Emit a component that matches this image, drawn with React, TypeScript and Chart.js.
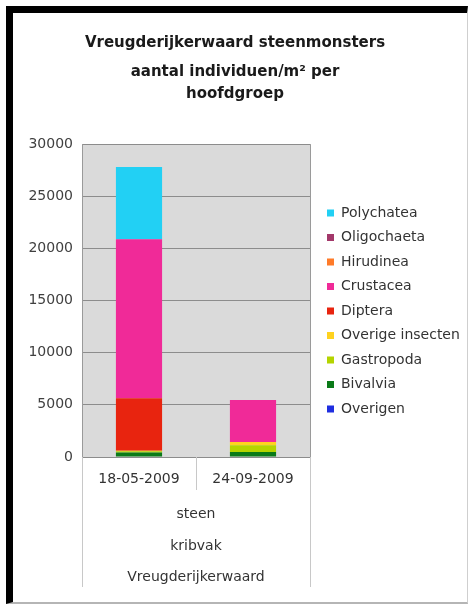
import React, { useEffect, useRef } from 'react';
import { Chart, registerables } from 'chart.js';

Chart.register(...registerables);

// ---- data ----
const categories = ['18-05-2009', '24-09-2009'];
const groupLevels = ['steen', 'kribvak', 'Vreugderijkerwaard'];
const titleText = 'Vreugderijkerwaard steenmonsters';
const subtitleLines = ['aantal individuen/m² per', 'hoofdgroep'];

// series listed bottom -> top of the stack
const seriesNames = [
  'Overigen',
  'Bivalvia',
  'Gastropoda',
  'Overige insecten',
  'Diptera',
  'Crustacea',
  'Hirudinea',
  'Oligochaeta',
  'Polychatea',
];
const overigen = [0, 0];
const bivalvia = [430, 480];
const gastropoda = [130, 640];
const overigeInsecten = [40, 320];
const diptera = [5030, 0];
const crustacea = [15240, 4020];
const hirudinea = [0, 0];
const oligochaeta = [0, 0];
const polychatea = [6930, 0];
const seriesValues = [
  overigen,
  bivalvia,
  gastropoda,
  overigeInsecten,
  diptera,
  crustacea,
  hirudinea,
  oligochaeta,
  polychatea,
];
const seriesColors = [
  '#1f2ee0',
  '#0a7a18',
  '#b4d400',
  '#ffd21f',
  '#e8240f',
  '#f02a98',
  '#ff7b29',
  '#a3386a',
  '#22d0f4',
];
const yMin = 0;
const yMax = 30000;
const yStep = 5000;

const FONT = 'DejaVu Sans';

const plotDecor = {
  id: 'plotDecor',
  beforeDraw(chart: any) {
    const { ctx, chartArea } = chart;
    ctx.save();
    ctx.fillStyle = '#dadada';
    ctx.fillRect(chartArea.left, chartArea.top, chartArea.right - chartArea.left, chartArea.bottom - chartArea.top);
    ctx.restore();
  },
  afterDraw(chart: any) {
    const { ctx, chartArea, scales } = chart;
    const x = scales.x;
    ctx.save();
    // plot border (right side)
    ctx.strokeStyle = '#9a9a9a';
    ctx.lineWidth = 1;
    ctx.beginPath();
    ctx.moveTo(Math.round(chartArea.right) + 0.5, chartArea.top);
    ctx.lineTo(Math.round(chartArea.right) + 0.5, chartArea.bottom);
    ctx.stroke();
    // category separators below plot
    ctx.strokeStyle = '#c8c8c8';
    const mid = (x.getPixelForTick(0) + x.getPixelForTick(1)) / 2;
    ctx.beginPath();
    ctx.moveTo(Math.round(mid) + 0.5, chartArea.bottom);
    ctx.lineTo(Math.round(mid) + 0.5, chartArea.bottom + 33);
    const lastGroup = scales.g3;
    [chartArea.left, chartArea.right].forEach((px: number) => {
      ctx.moveTo(Math.round(px) + 0.5, chartArea.bottom);
      ctx.lineTo(Math.round(px) + 0.5, lastGroup.bottom - 2);
    });
    ctx.stroke();
    ctx.restore();
  },
};

export default function App() {
  const ref = useRef<HTMLCanvasElement>(null);

  useEffect(() => {
    if (!ref.current) return;
    const tickFont = { family: FONT, size: 14 };
    const groupAxis = (idx: number, weight: number, padding: number) => ({
      type: 'category',
      axis: 'x',
      position: 'bottom',
      labels: [groupLevels[idx]],
      offset: true,
      weight,
      grid: { display: false, drawTicks: false },
      border: { display: false },
      ticks: { padding, color: '#333333', font: tickFont, autoSkip: false, maxRotation: 0 },
    });
    const chart = new Chart(ref.current, {
      type: 'bar',
      data: {
        labels: categories,
        datasets: seriesNames.map((name, i) => ({
          label: name,
          data: seriesValues[i],
          backgroundColor: seriesColors[i],
          borderWidth: 0,
          barPercentage: 1,
          categoryPercentage: 0.405,
          xAxisID: 'x',
          yAxisID: 'y',
        })),
      },
      options: {
        responsive: false,
        animation: false,
        layout: { padding: { top: 0, left: 8.5, right: 5.5, bottom: 13 } },
        font: { family: FONT },
        scales: {
          x: {
            type: 'category',
            stacked: true,
            weight: 0,
            grid: { display: false, drawTicks: false },
            border: { display: false },
            ticks: { padding: 14, color: '#333333', font: tickFont, maxRotation: 0 },
          },
          y: {
            type: 'linear',
            stacked: true,
            min: yMin,
            max: yMax,
            grid: { color: '#8c8c8c', drawTicks: false },
            border: { display: true, color: '#9a9a9a' },
            ticks: {
              stepSize: yStep,
              padding: 9,
              color: '#404040',
              font: tickFont,
              callback: (v: any) => String(v),
            },
            afterFit: (s: any) => {
              s.width = 73.5;
            },
          },
          g1: groupAxis(0, 1, 4.2),
          g2: groupAxis(1, 2, 11),
          g3: groupAxis(2, 3, 3.2),
          gap: {
            type: 'linear',
            position: 'right',
            axis: 'y',
            display: true,
            grid: { display: false, drawTicks: false },
            border: { display: false },
            ticks: { display: false },
            afterFit: (s: any) => {
              s.width = 6.5;
            },
          },
        } as any,
        plugins: {
          title: {
            display: true,
            text: titleText,
            color: '#1a1a1a',
            font: { family: FONT, size: 15, weight: 'bold', lineHeight: 1.2 },
            padding: { top: 21, bottom: 0 },
          },
          subtitle: {
            display: true,
            text: subtitleLines,
            color: '#1a1a1a',
            font: { family: FONT, size: 15, weight: 'bold', lineHeight: 1.47 },
            padding: { top: 8.7, bottom: 39.3 },
          },
          legend: {
            position: 'right',
            fullSize: false,
            reverse: true,
            align: 'center',
            maxWidth: 145,
            title: {
              display: true,
              text: ' ',
              font: { family: FONT, size: 11, lineHeight: 1 },
              padding: { top: 5, bottom: 5 },
            },
            labels: {
              boxWidth: 7,
              boxHeight: 7,
              padding: 10.5,
              color: '#333333',
              font: { family: FONT, size: 14 },
            },
          },
          tooltip: { enabled: false },
        },
      } as any,
      plugins: [plotDecor],
    });
    return () => chart.destroy();
  }, []);

  return (
    <div
      style={{
        position: 'absolute',
        left: 0,
        top: 0,
        width: 469,
        height: 606,
        background: '#ffffff',
        overflow: 'hidden',
      }}
    >
      <div
        style={{
          position: 'absolute',
          left: 6,
          top: 6,
          width: 462,
          height: 598,
          boxSizing: 'border-box',
          borderLeft: '7px solid #000000',
          borderTop: '7px solid #000000',
          borderRight: '1px solid #cfcfcf',
          borderBottom: '2px solid #b5b5b5',
        }}
      />
      <canvas
        ref={ref}
        width={467}
        height={589}
        style={{ position: 'absolute', left: 0, top: 13, width: 467, height: 589 }}
      />
    </div>
  );
}
